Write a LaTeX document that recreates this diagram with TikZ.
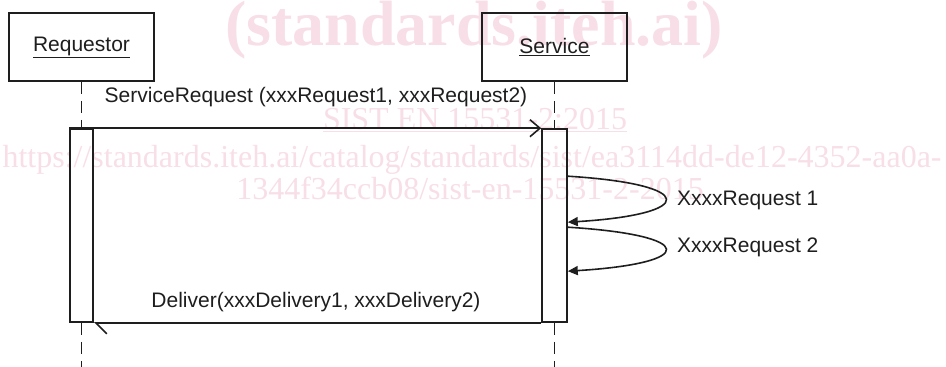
\documentclass[tikz,border=0pt]{standalone}
\usepackage{fontspec}
\setmainfont{Liberation Sans}
\newfontfamily\wmfont{Liberation Serif}
\usetikzlibrary{arrows.meta,calc}
\definecolor{wm}{RGB}{248,222,231}
\definecolor{ink}{RGB}{30,30,30}
\begin{document}
\begin{tikzpicture}[x=1pt,y=-1pt,
  lbl/.style={font=\fontsize{21}{25}\selectfont, text=ink, inner sep=0pt},
  objbox/.style={draw=ink, line width=1.6pt, minimum width=145pt, minimum height=68pt, inner sep=0pt, font=\fontsize{21}{25}\selectfont, text=ink},
  actbar/.style={draw=ink, line width=1.6pt, minimum height=193pt, inner sep=0pt},
  life/.style={draw=ink, line width=1.5pt, dash pattern=on 12pt off 7pt},
  msg/.style={draw=ink, line width=1.6pt},
  wmtext/.style={text=wm, inner sep=0pt, anchor=base},
]
\useasboundingbox (0,0) rectangle (946,367);
% watermark
\node[wmtext, font=\wmfont\bfseries\fontsize{64}{70}\selectfont] (wm1) at (474,45) {(standards.iteh.ai)};
\node[wmtext, font=\wmfont\fontsize{32}{36}\selectfont] (wm2) at (475,129) {\underline{SIST EN 15531-2:2015}};
\node[wmtext, font=\wmfont\fontsize{32}{36}\selectfont] (wm3) at (472,167) {https://standards.iteh.ai/catalog/standards/sist/ea3114dd-de12-4352-aa0a-};
\node[wmtext, font=\wmfont\fontsize{32}{36}\selectfont] (wm4) at (470,199) {1344f34ccb08/sist-en-15531-2-2015};
% objects
\node[objbox] (req) at (81.5,47) {\underline{Requestor}};
\node[objbox] (svc) at (554.5,47) {\underline{Service}};
\node[actbar, minimum width=23pt] (reqbar) at (81.5,225.5) {};
\node[actbar, minimum width=25pt] (svcbar) at (554.5,225.5) {};
% lifelines
\coordinate (reqend) at (81.5,367);
\coordinate (svcend) at (554.5,367);
\draw[life] (req.south) -- (reqbar.north);
\draw[life] (reqbar.south) -- (reqend);
\draw[life] (svc.south) -- (svcbar.north);
\draw[life] (svcbar.south) -- (svcend);
% messages
\draw[msg, -{Straight Barb[length=10pt,width=17pt]}] (reqbar.north west) -- (svcbar.north west);
\draw[msg, -{Straight Barb[left,length=11pt,width=22pt]}] (svcbar.south west) -- (reqbar.south east);
\node[lbl] (m1) at (316,97) {ServiceRequest (xxxRequest1, xxxRequest2)};
\node[lbl] (m2) at (316,302) {Deliver(xxxDelivery1, xxxDelivery2)};
% self messages
\coordinate (l1s) at ($(svcbar.north east)+(0,48)$);
\coordinate (l1e) at ($(svcbar.north east)+(0,94)$);
\coordinate (l2s) at ($(svcbar.north east)+(0,99)$);
\coordinate (l2e) at ($(svcbar.north east)+(0,143)$);
\draw[msg, -{Triangle[length=10pt,width=9pt]}] (l1s) .. controls +(130,8) and +(130,-8) .. (l1e);
\draw[msg, -{Triangle[length=10pt,width=9pt]}] (l2s) .. controls +(130,8) and +(130,-8) .. (l2e);
\node[lbl, anchor=west] (r1) at (677,200) {XxxxRequest 1};
\node[lbl, anchor=west] (r2) at (677,247) {XxxxRequest 2};
\end{tikzpicture}
\end{document}
